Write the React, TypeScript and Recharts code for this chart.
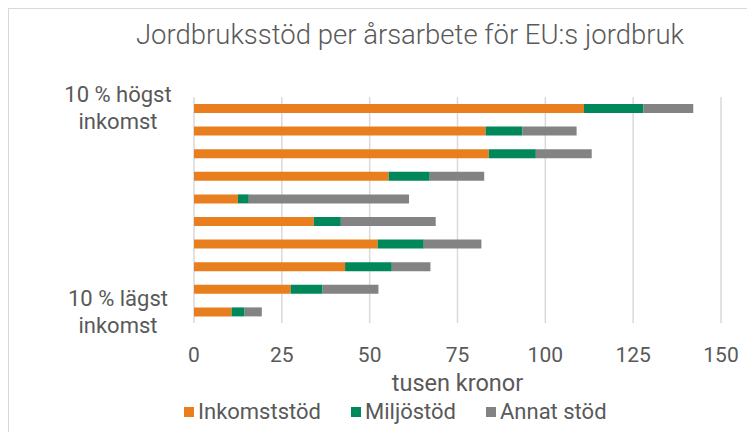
import React from "react";
import { BarChart, Bar, XAxis, YAxis, CartesianGrid, Legend } from "recharts";

const categories = ["D10", "D9", "D8", "D7", "D6", "D5", "D4", "D3", "D2", "D1"];
const tickLabels = [
  ["10 % högst", "inkomst"],
  [], [], [], [], [], [], [], [],
  ["10 % lägst", "inkomst"],
];
const inkomststod = [111.0, 83.0, 83.9, 55.4, 12.5, 34.1, 52.3, 43.0, 27.5, 10.7];
const miljostod = [16.9, 10.5, 13.4, 11.7, 3.1, 7.7, 13.1, 13.3, 9.1, 3.7];
const annatStod = [14.2, 15.4, 15.9, 15.5, 45.6, 27.0, 16.4, 11.0, 15.9, 4.9];
const xTicks = [0, 25, 50, 75, 100, 125, 150];
const seriesNames = ["Inkomststöd", "Miljöstöd", "Annat stöd"];
const colors = ["#E97E1E", "#00875A", "#838383"];

const data = categories.map((c, i) => ({
  name: c,
  ink: inkomststod[i],
  mil: miljostod[i],
  ann: annatStod[i],
}));

const FONT = "Roboto, 'Noto Sans', sans-serif";
const TXT = "#595959";

const YTick = (props: any) => {
  const { y, payload } = props;
  const lines: string[] = tickLabels[payload.index] || [];
  if (!lines.length) return null;
  return (
    <text x={109} y={y} textAnchor="middle" fill={TXT} fontSize={22} fontFamily={FONT}>
      {lines.map((l, i) => (
        <tspan key={i} x={109} y={y + (i - (lines.length - 1) / 2) * 27} dominantBaseline="central">
          {l}
        </tspan>
      ))}
    </text>
  );
};

const XTick = (props: any) => {
  const { x, y, payload } = props;
  return (
    <text x={x} y={y + 32} textAnchor="middle" dominantBaseline="central" fill={TXT} fontSize={21} fontFamily={FONT}>
      {payload.value}
    </text>
  );
};

const LegendContent = () => (
  <div style={{ display: "flex", alignItems: "center", fontFamily: FONT, fontSize: 22, color: TXT, whiteSpace: "nowrap" }}>
    {seriesNames.map((n, i) => (
      <div key={n} style={{ display: "flex", alignItems: "center", marginRight: 30 }}>
        <span style={{ width: 10, height: 10, background: colors[i], display: "inline-block", marginRight: 4 }} />
        <span>{n}</span>
      </div>
    ))}
  </div>
);

export default function App() {
  return (
    <div style={{ position: "relative", width: 747, height: 424, borderTop: "1px solid #d9d9d9", borderLeft: "1px solid #d9d9d9", boxSizing: "border-box" }}>
      <div
        style={{
          position: "absolute",
          left: 401,
          top: 25,
          transform: "translate(-50%, -50%)",
          fontFamily: FONT,
          fontSize: 27.5,
          fontWeight: 300,
          color: TXT,
          whiteSpace: "nowrap",
        }}
      >
        Jordbruksstöd per årsarbete för EU:s jordbruk
      </div>
      <BarChart
        width={746}
        height={423}
        data={data}
        layout="vertical"
        margin={{ top: 88, right: 34, bottom: 79, left: 0 }}
        barSize={9}
      >
        <CartesianGrid horizontal={false} vertical={true} stroke="#d9d9d9" strokeWidth={1.5} />
        <XAxis
          type="number"
          domain={[0, 150]}
          ticks={xTicks}
          axisLine={false}
          tickLine={false}
          tickSize={0}
          tickMargin={0}
          height={30}
          tick={<XTick />}
          label={{ value: "tusen kronor", position: "bottom", offset: 21, fill: TXT, fontSize: 23.5, fontFamily: FONT }}
        />
        <YAxis
          type="category"
          dataKey="name"
          width={185}
          axisLine={false}
          tickLine={false}
          tick={<YTick />}
          interval={0}
        />
        <Legend
          layout="horizontal"
          verticalAlign="middle"
          align="center"
          content={<LegendContent />}
          wrapperStyle={{ top: 390, left: 175, width: "auto", height: 28 }}
        />
        <Bar dataKey="ink" name={seriesNames[0]} stackId="a" fill={colors[0]} isAnimationActive={false} />
        <Bar dataKey="mil" name={seriesNames[1]} stackId="a" fill={colors[1]} isAnimationActive={false} />
        <Bar dataKey="ann" name={seriesNames[2]} stackId="a" fill={colors[2]} isAnimationActive={false} />
      </BarChart>
    </div>
  );
}
